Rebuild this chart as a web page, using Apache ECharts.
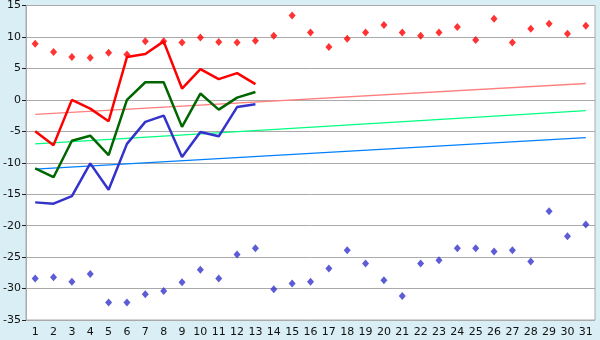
<!DOCTYPE html>
<html><head><meta charset="utf-8">
<script src="https://cdn.jsdelivr.net/npm/echarts@6/dist/echarts.min.js"></script>
<style>html,body{margin:0;padding:0;background:#d9eff5}#c{width:600px;height:340px}</style>
</head><body><div id="c"></div>
<script>
const categories = Array.from({length:31},(_,i)=>String(i+1));
const yTicks = {min:-35, max:15, interval:5};
const redPoints = [8.9,7.6,6.8,6.7,7.5,7.2,9.3,9.3,9.1,9.9,9.2,9.1,9.4,10.2,13.4,10.7,8.4,9.7,10.7,11.9,10.7,10.2,10.7,11.6,9.5,12.9,9.1,11.3,12.1,10.5,11.8];
const bluePoints = [-28.4,-28.2,-28.9,-27.7,-32.2,-32.2,-30.9,-30.4,-29.0,-27.0,-28.4,-24.6,-23.6,-30.1,-29.2,-28.9,-26.8,-23.9,-26.0,-28.7,-31.2,-26.0,-25.5,-23.6,-23.6,-24.1,-23.9,-25.7,-17.7,-21.7,-19.8];
const redLine = [-5.0,-7.2,0.0,-1.4,-3.4,6.8,7.3,9.3,1.8,4.9,3.3,4.25,2.5];
const greenLine = [-10.9,-12.3,-6.5,-5.7,-8.8,0.0,2.8,2.8,-4.3,1.0,-1.55,0.35,1.25];
const blueLine = [-16.3,-16.5,-15.3,-10.1,-14.3,-7.0,-3.5,-2.5,-9.1,-5.1,-5.8,-1.15,-0.7];
const pinkTrend = [-2.3, 2.6];   // values at first and last category
const greenTrend = [-7.0, -1.7];
const blueTrend = [-11.0, -6.0];

function ends(pair){ const a = new Array(categories.length).fill(null); a[0]=pair[0]; a[a.length-1]=pair[1]; return a; }

const chart = echarts.init(document.getElementById('c'), null, {renderer:'canvas'});
const font = {fontFamily:'DejaVu Sans', fontSize:11, color:'#111'};
chart.setOption({
  animation:false,
  backgroundColor:'#d9eff5',
  grid:{left:26,right:5,top:5,bottom:20,show:true,backgroundColor:'#fff',borderColor:'#aaa',borderWidth:1},
  xAxis:{type:'category',data:categories,boundaryGap:true,
    axisLine:{lineStyle:{color:'#aaa'}},
    axisTick:{alignWithLabel:true,length:5,lineStyle:{color:'#222'}},
    axisLabel:Object.assign({margin:7,interval:0},font),
    splitLine:{show:false}},
  yAxis:{type:'value',min:yTicks.min,max:yTicks.max,interval:yTicks.interval,
    axisLine:{show:true,lineStyle:{color:'#aaa'}},
    axisTick:{show:true,length:4,lineStyle:{color:'#222'}},
    axisLabel:Object.assign({margin:5},font),
    splitLine:{lineStyle:{color:'#aaa'}}},
  series:[
    {type:'line',data:ends(pinkTrend),connectNulls:true,symbol:'none',lineStyle:{color:'#ff8080',width:1.3}},
    {type:'line',data:ends(greenTrend),connectNulls:true,symbol:'none',lineStyle:{color:'#00ff80',width:1.3}},
    {type:'line',data:ends(blueTrend),connectNulls:true,symbol:'none',lineStyle:{color:'#0080ff',width:1.3}},
    {type:'line',data:redLine,symbol:'none',lineStyle:{color:'#ff0000',width:2.5}},
    {type:'line',data:greenLine,symbol:'none',lineStyle:{color:'#006600',width:2.5}},
    {type:'line',data:blueLine,symbol:'none',lineStyle:{color:'#3333cc',width:2.5}},
    {type:'scatter',data:redPoints,symbol:'diamond',symbolSize:[7,8],itemStyle:{color:'#ff0000'}},
    {type:'scatter',data:bluePoints,symbol:'diamond',symbolSize:[7,8],itemStyle:{color:'#3333cc'}}
  ]
});
</script></body></html>
